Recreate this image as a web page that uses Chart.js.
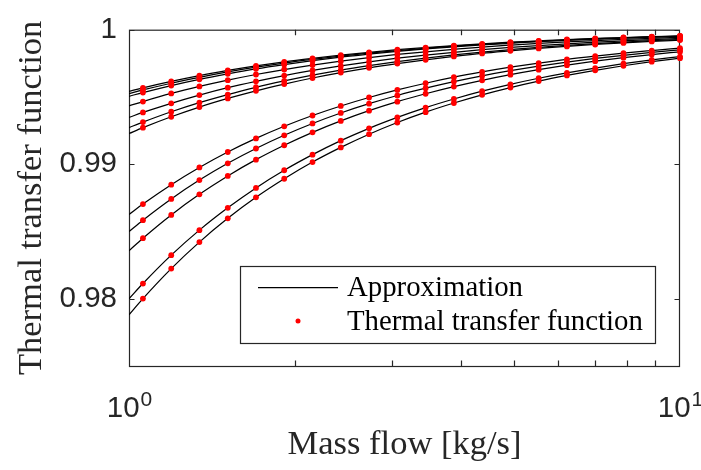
<!DOCTYPE html>
<html>
<head>
<meta charset="utf-8">
<script src="https://cdn.jsdelivr.net/npm/chart.js@4.4.1/dist/chart.umd.min.js"></script>
<style>
  html, body { margin: 0; padding: 0; background: #fff; }
  #wrap { width: 701px; height: 470px; }
</style>
</head>
<body>
<div id="wrap"><canvas id="chart" width="701" height="470"></canvas></div>
<script>
// Mass flow values where the thermal transfer function was sampled [kg/s]
const massFlow = [1.06, 1.193, 1.342, 1.511, 1.700, 1.913, 2.153, 2.423, 2.727, 3.069,
                  3.454, 3.887, 4.374, 4.923, 5.540, 6.234, 7.016, 7.896, 8.886, 10.0];
const startFlow = 1;

// Thermal transfer function, one array per curve
const ttfA = [0.99568, 0.99616, 0.99659, 0.99697, 0.99731, 0.99761, 0.99787, 0.99811, 0.99832, 0.99851,
              0.99867, 0.99882, 0.99895, 0.99907, 0.99917, 0.99927, 0.99935, 0.99942, 0.99948, 0.99954];
const ttfB = [0.99552, 0.99602, 0.99646, 0.99686, 0.99721, 0.99752, 0.99779, 0.99804, 0.99826, 0.99845,
              0.99862, 0.99878, 0.99891, 0.99904, 0.99914, 0.99924, 0.99932, 0.99940, 0.99947, 0.99953];
const ttfC = [0.99533, 0.99585, 0.99631, 0.99672, 0.99709, 0.99741, 0.99770, 0.99796, 0.99818, 0.99839,
              0.99857, 0.99873, 0.99887, 0.99899, 0.99911, 0.99921, 0.99929, 0.99937, 0.99944, 0.99950];
const ttfD = [0.99466, 0.99526, 0.99578, 0.99625, 0.99667, 0.99704, 0.99737, 0.99766, 0.99792, 0.99816,
              0.99836, 0.99854, 0.99871, 0.99885, 0.99898, 0.99909, 0.99919, 0.99928, 0.99936, 0.99943];
const ttfE = [0.99385, 0.99453, 0.99514, 0.99569, 0.99616, 0.99659, 0.99697, 0.99731, 0.99761, 0.99788,
              0.99811, 0.99832, 0.99851, 0.99868, 0.99882, 0.99895, 0.99907, 0.99917, 0.99927, 0.99935];
const ttfF = [0.99313, 0.99390, 0.99458, 0.99518, 0.99572, 0.99619, 0.99662, 0.99700, 0.99733, 0.99763,
              0.99789, 0.99813, 0.99834, 0.99852, 0.99869, 0.99883, 0.99896, 0.99908, 0.99918, 0.99927];
const ttfG = [0.99272, 0.99353, 0.99425, 0.99489, 0.99546, 0.99596, 0.99641, 0.99681, 0.99717, 0.99748,
              0.99776, 0.99801, 0.99824, 0.99843, 0.99861, 0.99876, 0.99890, 0.99902, 0.99913, 0.99923];
const ttfH = [0.98704, 0.98848, 0.98976, 0.99091, 0.99192, 0.99282, 0.99362, 0.99433, 0.99496, 0.99552,
              0.99602, 0.99647, 0.99686, 0.99721, 0.99752, 0.99780, 0.99804, 0.99826, 0.99845, 0.99863];
const ttfI = [0.98584, 0.98742, 0.98882, 0.99007, 0.99117, 0.99215, 0.99303, 0.99381, 0.99450, 0.99511,
              0.99565, 0.99614, 0.99657, 0.99695, 0.99729, 0.99759, 0.99786, 0.99810, 0.99831, 0.99850];
const ttfJ = [0.98450, 0.98623, 0.98776, 0.98913, 0.99034, 0.99141, 0.99237, 0.99322, 0.99398, 0.99465,
              0.99524, 0.99577, 0.99624, 0.99666, 0.99703, 0.99736, 0.99766, 0.99792, 0.99815, 0.99836];
const ttfK = [0.98113, 0.98324, 0.98510, 0.98676, 0.98824, 0.98955, 0.99071, 0.99175, 0.99267, 0.99348,
              0.99421, 0.99485, 0.99543, 0.99594, 0.99639, 0.99679, 0.99715, 0.99747, 0.99775, 0.99800];
const ttfL = [0.98001, 0.98224, 0.98421, 0.98598, 0.98754, 0.98892, 0.99016, 0.99125, 0.99223, 0.99310,
              0.99387, 0.99455, 0.99516, 0.99570, 0.99618, 0.99660, 0.99698, 0.99732, 0.99762, 0.99788];

// Approximation value of each curve at the left edge (mass flow = 1)
const approxAtStart = [0.99542, 0.99525, 0.99505, 0.99434, 0.99348, 0.99272, 0.99228,
                       0.98626, 0.98499, 0.98357, 0.98000, 0.97881];

const yTicks = [0.98, 0.99, 1];
const xTickLabels = [{ value: 1, base: '10', exp: '0' }, { value: 10, base: '10', exp: '1' }];
const xMinorTicks = [2, 3, 4, 5, 6, 7, 8, 9];

const allSeries = [ttfA, ttfB, ttfC, ttfD, ttfE, ttfF, ttfG, ttfH, ttfI, ttfJ, ttfK, ttfL];

const axisColor = '#262626';
const sansFont = '"Liberation Sans", Arial, sans-serif';
const serifFont = '"Liberation Serif", "Times New Roman", serif';
const datasets = [];

allSeries.forEach((vals, i) => {
    const pts = vals.map((v, k) => ({ x: massFlow[k], y: v }));
    datasets.push({
        type: 'line',
        label: 'Approximation',
        data: [{ x: startFlow, y: approxAtStart[i] }].concat(pts),
        borderColor: '#000',
        borderWidth: 1.25,
        pointRadius: 0,
        cubicInterpolationMode: 'monotone',
        fill: false,
        order: 2
    });
});
allSeries.forEach((vals) => {
    datasets.push({
        type: 'scatter',
        label: 'Thermal transfer function',
        data: vals.map((v, k) => ({ x: massFlow[k], y: v })),
        backgroundColor: '#ff0000',
        borderWidth: 0,
        pointRadius: 2.9,
        clip: 6,
        order: 1
    });
});

// box, inside ticks, log tick labels and legend, MATLAB style
const axesDecor = {
    id: 'axesDecor',
    beforeDatasetsDraw(chart) {
        const { ctx, chartArea: a, scales } = chart;
        ctx.save();
        ctx.strokeStyle = axisColor;
        ctx.lineWidth = 1.2;
        ctx.strokeRect(a.left + 0.5, a.top + 0.5, a.right - a.left - 1, a.bottom - a.top);
        const tl = 5.5;
        ctx.beginPath();
        yTicks.forEach(v => {
            const y = Math.round(scales.y.getPixelForValue(v)) + 0.5;
            ctx.moveTo(a.left, y); ctx.lineTo(a.left + tl, y);
            ctx.moveTo(a.right, y); ctx.lineTo(a.right - tl, y);
        });
        xMinorTicks.forEach(v => {
            const x = Math.round(scales.x.getPixelForValue(v)) + 0.5;
            ctx.moveTo(x, a.bottom); ctx.lineTo(x, a.bottom - tl);
            ctx.moveTo(x, a.top); ctx.lineTo(x, a.top + tl);
        });
        ctx.stroke();
        ctx.restore();
    },
    afterDraw(chart) {
        const { ctx, chartArea: a, scales } = chart;
        ctx.save();
        // x tick labels with exponents
        ctx.fillStyle = axisColor;
        ctx.textBaseline = 'alphabetic';
        xTickLabels.forEach(t => {
            const x = scales.x.getPixelForValue(t.value);
            ctx.font = '29.5px ' + sansFont;
            const wb = ctx.measureText(t.base).width;
            ctx.font = '21px ' + sansFont;
            const we = ctx.measureText(t.exp).width;
            const x0 = x - (wb + we) / 2;
            ctx.font = '29.5px ' + sansFont;
            ctx.textAlign = 'left';
            ctx.fillText(t.base, x0, a.bottom + 51);
            ctx.font = '21px ' + sansFont;
            ctx.fillText(t.exp, x0 + wb + 1, a.bottom + 40);
        });

        // legend
        const lx = 240.5, ly = 266.5, lw = 415, lh = 77;
        ctx.fillStyle = '#fff';
        ctx.fillRect(lx, ly, lw, lh);
        ctx.strokeStyle = axisColor;
        ctx.lineWidth = 1.2;
        ctx.strokeRect(lx, ly, lw, lh);
        ctx.strokeStyle = '#000';
        ctx.lineWidth = 1.25;
        ctx.beginPath();
        ctx.moveTo(258, 287.5); ctx.lineTo(338, 287.5);
        ctx.stroke();
        ctx.fillStyle = '#ff0000';
        ctx.beginPath();
        ctx.arc(298, 321, 2.5, 0, Math.PI * 2);
        ctx.fill();
        ctx.fillStyle = '#000';
        ctx.font = '28.8px ' + serifFont;
        ctx.textAlign = 'left';
        ctx.textBaseline = 'alphabetic';
        ctx.fillText('Approximation', 347, 296);
        ctx.fillText('Thermal transfer function', 347, 330);
        ctx.restore();
    }
};

new Chart(document.getElementById('chart'), {
    data: { datasets: datasets },
    options: {
        responsive: false,
        animation: false,
        layout: { padding: { top: 18, right: 21, left: 0, bottom: 0 } },
        plugins: { legend: { display: false }, tooltip: { enabled: false } },
        scales: {
            x: {
                type: 'logarithmic',
                position: 'bottom',
                min: 1,
                max: 10,
                grid: { display: false, drawTicks: false },
                border: { display: false },
                ticks: { display: false },
                afterFit: (s) => { s.height = 104; },
                title: {
                    display: true,
                    text: 'Mass flow [kg/s]',
                    color: axisColor,
                    font: { family: serifFont, size: 34.5 },
                    padding: { top: 0, bottom: 4 }
                }
            },
            y: {
                type: 'linear',
                min: 0.975,
                max: 1,
                grid: { display: false, drawTicks: false },
                border: { display: false },
                afterBuildTicks: (s) => { s.ticks = yTicks.map(v => ({ value: v })); },
                afterFit: (s) => { s.width = 129; },
                ticks: {
                    color: axisColor,
                    padding: 12,
                    font: { family: sansFont, size: 29.5 },
                    callback: (v) => (v === 1 ? '1' : v.toFixed(2))
                },
                title: {
                    display: true,
                    text: 'Thermal transfer function',
                    color: axisColor,
                    font: { family: serifFont, size: 34.5 },
                    padding: { top: 11, bottom: 0 }
                }
            }
        }
    },
    plugins: [axesDecor]
});
</script>
</body>
</html>
